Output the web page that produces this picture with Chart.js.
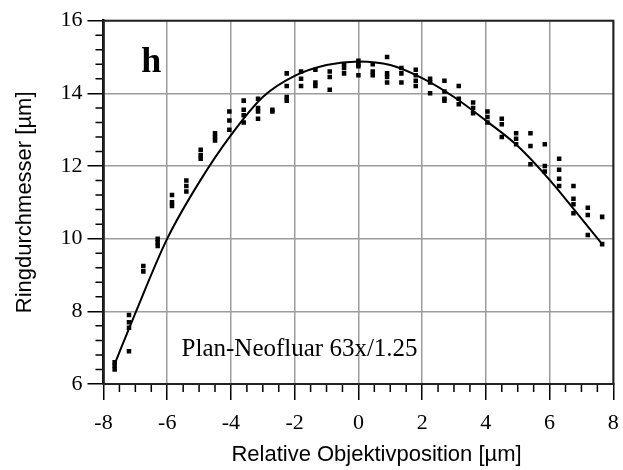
<!DOCTYPE html>
<html>
<head>
<meta charset="utf-8">
<script src="https://cdn.jsdelivr.net/npm/chart.js@4/dist/chart.umd.min.js"></script>
<style>
  html, body { margin: 0; padding: 0; background: #fff; overflow: hidden; }
  #wrap { position: relative; width: 623px; height: 470px; }
</style>
</head>
<body>
<div id="wrap"><canvas id="ringChart"></canvas></div>
<script>
// measured ring diameters, grouped by objective position
const clusterX = [-7.65, -7.2, -6.75, -6.3, -5.85, -5.4, -4.95, -4.5, -4.05, -3.6, -3.15, -2.7,
    -2.25, -1.8, -1.35, -0.9, -0.45, 0, 0.45, 0.9, 1.35, 1.8, 2.25, 2.7, 3.15, 3.6, 4.05, 4.5,
    4.95, 5.4, 5.85, 6.3, 6.75, 7.2, 7.65];
const clusterY = [
    [6.6, 6.5, 6.4], [7.9, 7.7, 7.55, 6.9], [9.25, 9.1], [10.0, 9.9, 9.8], [11.2, 11.0, 10.9],
    [11.6, 11.45, 11.3], [12.45, 12.3, 12.2], [12.9, 12.8, 12.7], [13.5, 13.25, 13.0],
    [13.8, 13.55, 13.4, 13.2], [13.85, 13.6, 13.5, 13.3], [13.55, 13.5],
    [14.55, 14.2, 13.9, 13.8], [14.6, 14.4, 14.2], [14.65, 14.3, 14.2], [14.6, 14.45, 14.1],
    [14.8, 14.7, 14.55], [14.9, 14.8, 14.75, 14.5], [14.8, 14.6, 14.5], [15.0, 14.55, 14.45, 14.3],
    [14.7, 14.55, 14.3], [14.65, 14.5, 14.35, 14.2], [14.4, 14.3, 14.0], [14.35, 14.05, 13.85, 13.8],
    [14.2, 13.85, 13.7], [13.75, 13.6, 13.45], [13.5, 13.35, 13.2], [13.3, 13.15, 12.8],
    [12.9, 12.75, 12.6], [12.9, 12.55, 12.05], [12.6, 12.0, 11.85], [12.2, 11.9, 11.65, 11.45],
    [11.45, 11.1, 10.95, 10.7], [10.85, 10.65, 10.1], [10.6, 9.85]
];

// fitted curve
const curveX = [-7.65, -7, -6, -5, -4, -3, -2, -1, 0, 1, 2, 3, 4, 5, 6, 7, 7.65];
const curveY = [6.55, 7.95, 10.0, 11.55, 12.85, 13.9, 14.48, 14.78, 14.88, 14.78, 14.42, 13.9,
    13.25, 12.55, 11.62, 10.55, 9.85];

const xTicks = [-8, -6, -4, -2, 0, 2, 4, 6, 8];
const yTicks = [6, 8, 10, 12, 14, 16];

const serif = "'Liberation Serif', 'Times New Roman', serif";
const sans = "'Liberation Sans', Arial, sans-serif";

Chart.defaults.font.family = serif;
Chart.defaults.color = "#000";

const points = clusterX.flatMap((x, i) => clusterY[i].map(y => ({ x: x, y: y })));
const curve = curveX.map((x, i) => ({ x: x, y: curveY[i] }));

// frame, minor ticks and the text inside the plot
const extras = {
    id: "extras",
    afterDraw(chart) {
        const c = chart.ctx;
        const a = chart.chartArea;
        const sx = chart.scales.x;
        const sy = chart.scales.y;
        c.save();
        c.strokeStyle = "#000";
        c.lineWidth = 1.5;
        c.beginPath();
        for (let k = 1; k < 32; k++) {
            if (k % 4 === 0) continue;
            const px = sx.getPixelForValue(-8 + k * 0.5);
            c.moveTo(px, a.bottom);
            c.lineTo(px, a.bottom + 8);
        }
        for (let k = 1; k < 25; k++) {
            if (k % 5 === 0) continue;
            const py = sy.getPixelForValue(6 + k * 0.4);
            c.moveTo(a.left, py);
            c.lineTo(a.left - 8, py);
        }
        c.stroke();

        c.lineWidth = 2;
        c.strokeStyle = "#222";
        c.strokeRect(a.left, a.top, a.right - a.left, a.bottom - a.top);

        c.fillStyle = "#000";
        c.font = "bold 36px " + serif;
        c.textAlign = "center";
        c.textBaseline = "alphabetic";
        c.fillText("h", sx.getPixelForValue(-6.5), sy.getPixelForValue(14.58));

        c.font = "25px " + serif;
        c.textAlign = "left";
        c.fillText("Plan-Neofluar 63x/1.25", sx.getPixelForValue(-5.55), sy.getPixelForValue(6.77));

        c.font = "22px " + sans;
        c.textAlign = "center";
        c.fillText("Relative Objektivposition [\u00b5m]", 376.5, a.bottom + 76.5);
        c.restore();
    }
};

const ctx = document.getElementById("ringChart");

new Chart(ctx, {
    data: {
        datasets: [{
            type: "line",
            label: "Fit",
            data: curve,
            borderColor: "#000",
            borderWidth: 2,
            pointRadius: 0,
            cubicInterpolationMode: "monotone",
            fill: false
        }, {
            type: "scatter",
            label: "Messwerte",
            data: points,
            pointStyle: "rect",
            pointRadius: 3.2,
            backgroundColor: "#000",
            borderColor: "#000",
            borderWidth: 0
        }]
    },
    options: {
        responsive: true,
        maintainAspectRatio: false,
        animation: false,
        layout: { padding: { left: 0, right: 9.7, top: 20.7, bottom: 0 } },
        plugins: {
            legend: { display: false },
            tooltip: { enabled: false }
        },
        scales: {
            x: {
                type: "linear",
                min: -8,
                max: 8,
                afterBuildTicks: s => { s.ticks = xTicks.map(v => ({ value: v })); },
                afterFit: s => {
                    s.height = 86;
                    s.paddingLeft = 0;
                    s.paddingRight = 0;
                },
                ticks: {
                    color: "#000",
                    padding: 10,
                    maxRotation: 0,
                    font: { family: serif, size: 22 }
                },
                grid: {
                    color: "#9c9c9c",
                    lineWidth: 1.5,
                    tickLength: 16,
                    tickColor: "#000",
                    tickWidth: 1.5
                },
                border: { color: "#000", width: 2 }
            },
            y: {
                type: "linear",
                min: 6,
                max: 16,
                afterBuildTicks: s => { s.ticks = yTicks.map(v => ({ value: v })); },
                afterFit: s => {
                    s.width = 103.5;
                    s.paddingTop = 0;
                    s.paddingBottom = 0;
                },
                ticks: {
                    color: "#000",
                    padding: 5,
                    font: { family: serif, size: 22 }
                },
                grid: {
                    color: "#9c9c9c",
                    lineWidth: 1.5,
                    tickLength: 16,
                    tickColor: "#000",
                    tickWidth: 1.5
                },
                border: { color: "#000", width: 2.5 },
                title: {
                    display: true,
                    text: "Ringdurchmesser [\u00b5m]",
                    color: "#000",
                    font: { family: sans, size: 22 },
                    padding: { top: 12, bottom: 0 }
                }
            }
        }
    },
    plugins: [extras]
});
</script>
</body>
</html>
